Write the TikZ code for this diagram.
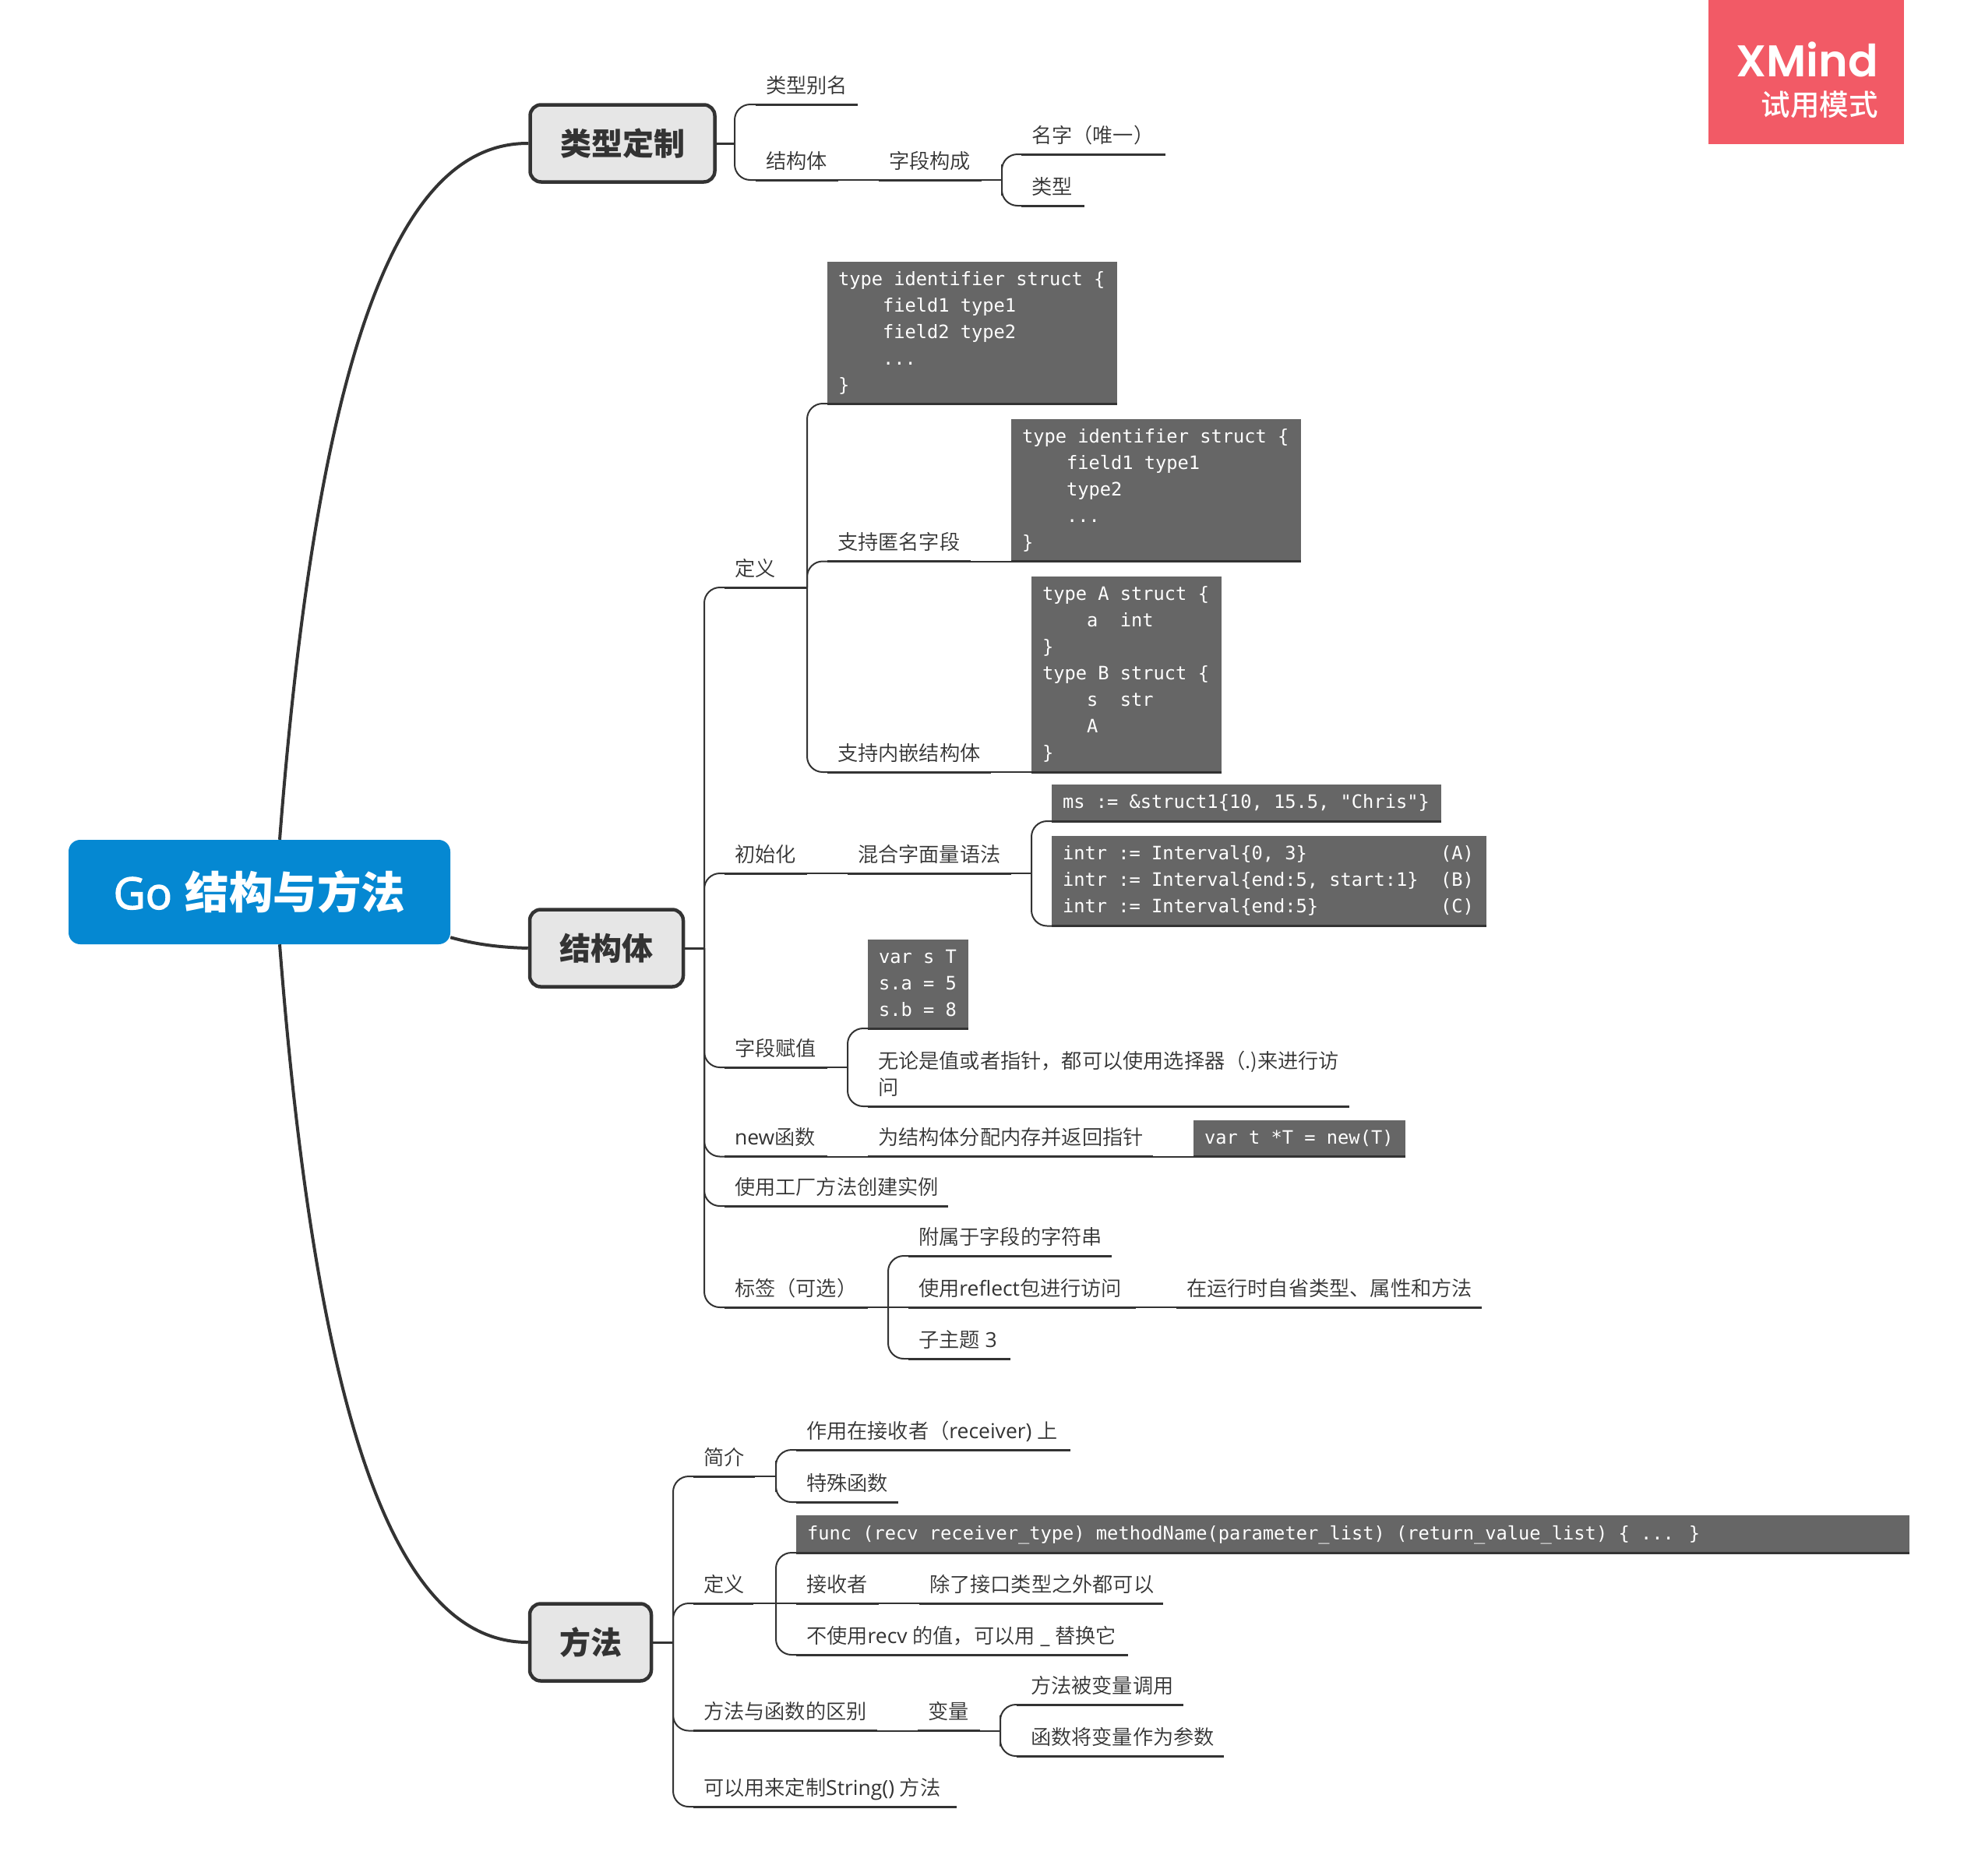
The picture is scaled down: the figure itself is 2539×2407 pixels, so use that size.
\documentclass[tikz,border=0pt]{standalone}
\usepackage{fontspec}
\setmainfont{Noto Sans CJK SC}[UprightFont=* DemiLight,BoldFont=* Black]
\newfontfamily\latf{Open Sans}
\newfontfamily\latm{Open Sans}[FakeBold=2.5]
\newfontfamily\codef{DejaVu Sans Mono}
\newfontfamily\logof{Poppins}[UprightFont=* SemiBold]
\newfontfamily\cjkr{Noto Sans CJK SC}[UprightFont=* Medium]
\definecolor{ink}{HTML}{333333}
\definecolor{rootblue}{HTML}{0588D2}
\definecolor{nodegrey}{HTML}{E6E6E6}
\definecolor{codegrey}{HTML}{666666}
\definecolor{logored}{HTML}{F25A66}
\newcommand\lt[1]{{\latf\fontsize{26.5pt}{34pt}\selectfont #1}}
\tikzset{
  mainnode/.style={draw=ink,line width=4.5pt,fill=nodegrey,rounded corners=14pt,text=ink,inner sep=0pt,
    font=\fontsize{40pt}{48pt}\selectfont\bfseries},
  rootnode/.style={fill=rootblue,rounded corners=15pt,text=white,inner sep=0pt,
    minimum width=490pt,minimum height=134pt},
  topic/.style={anchor=south west,inner xsep=0pt,inner ysep=15pt,outer sep=0pt,text depth=0pt,text=ink,
    font=\fontsize{26.2pt}{34pt}\selectfont},
  ul/.style={draw=ink,line width=3pt},
  conn/.style={draw=ink,line width=2pt,rounded corners=20pt},
  bigline/.style={draw=ink,line width=4pt},
  midline/.style={draw=ink,line width=3pt},
  codeb/.style={fill=codegrey,text=white,anchor=north west,inner sep=0pt,outer sep=0pt,
    font=\codef\fontsize{23.7pt}{34pt}\selectfont},
}
\newcommand\topicn[5]{%
  \pgfmathsetmacro\tpw{#3-#2}%
  \node[topic] (#1) at (#2,#4) {\makebox[\tpw pt][l]{\hspace{13pt}#5}};
  \draw[ul] (#1.south west) -- (#1.south east);
}
\newcommand\codeln[1]{\hbox{\vrule height 24pt depth 10pt width 0pt #1}}
\newcommand\codebox[6]{%
  \pgfmathsetmacro\cbw{#4-#2}%
  \pgfmathsetmacro\cbh{#5-#3}%
  \node[codeb,minimum width=\cbw pt,minimum height=\cbh pt] (#1) at (#2,#3)
    {\makebox[\cbw pt][l]{\hspace{14pt}\vbox{\offinterlineskip #6}}};
  \draw[ul] (#1.south west) -- (#1.south east);
}
\begin{document}
\begin{tikzpicture}[x=1pt,y=-1pt]
\path[use as bounding box,fill=white] (0,0) rectangle (2539,2407);

% logo
\node[fill=logored,minimum width=251pt,minimum height=185pt,inner sep=0pt,anchor=north west] (logo) at (2193,0) {};
\node[anchor=base east,inner sep=0pt,text=white,font=\logof\fontsize{57pt}{60pt}\selectfont] (logoa) at (2411,98) {XMind};
\node[anchor=base east,inner sep=0pt,text=white,font=\cjkr\fontsize{37.5pt}{40pt}\selectfont] (logob) at (2411,148) {试用模式};

% main nodes
\node[rootnode] (root) at (333,1145) {};
\node[anchor=center,inner sep=0pt,text=white,font=\fontsize{56.5pt}{60pt}\selectfont\bfseries] (rootlabel) at (root.center) {{\latm\mdseries Go}\hspace{4pt} 结构与方法};
\node[mainnode,minimum width=237pt,minimum height=99pt] (t1) at (799,184) {类型定制};
\node[mainnode,minimum width=197pt,minimum height=99pt] (t2) at (778.5,1217) {结构体};
\node[mainnode,minimum width=156pt,minimum height=99pt] (t3) at (758,2108) {方法};

\draw[bigline] ([xshift=26pt]root.north) .. controls (410,420) and (520,183) .. (t1.west);
\draw[bigline] ([xshift=26pt]root.south) .. controls (410,1870) and (520,2108) .. (t3.west);
\draw[bigline] ([yshift=9pt]root.south east) .. controls (610,1212) and (640,1216) .. (t2.west);

% junctions on the trunks
\coordinate (j1) at (943,184);
\coordinate (j2) at (904,1217);
\coordinate (j3) at (864,2108);
\draw[midline] (t1.east) -- (j1);
\draw[midline] (t2.east) -- (j2);
\draw[midline] (t3.east) -- (j3);

% ---------- type definitions
\topicn{alias}{970}{1101}{134}{类型别名}
\topicn{tstruct}{970}{1076}{231}{结构体}
\topicn{fields}{1128}{1260}{231}{字段构成}
\topicn{fname}{1311}{1496}{198}{名字（唯一）}
\topicn{ftype}{1311}{1392}{264}{类型}
\coordinate (jf) at (1286,231);
\draw[conn] (alias.south west) -| (j1) |- (tstruct.south west);
\draw[conn] (tstruct.south east) -- (fields.south west);
\draw[conn] (fields.south east) -- (jf);
\draw[conn] (fname.south west) -| (jf) |- (ftype.south west);

% ---------- struct
\topicn{sdef}{930}{1036}{754}{定义}
\topicn{anon}{1062}{1246}{720.5}{支持匿名字段}
\topicn{nest}{1062}{1272}{991}{支持内嵌结构体}
\topicn{sinit}{930}{1036}{1121}{初始化}
\topicn{mix}{1088}{1298}{1121}{混合字面量语法}
\topicn{assign}{930}{1062}{1370}{字段赋值}
\topicn{either}{1114}{1732}{1420}{\vbox{\baselineskip=34pt\hbox{无论是值或者指针，都可以使用选择器（.)来进行访}\hbox{问}}}
\topicn{newf}{930}{1062}{1484.5}{\lt{new}函数}
\topicn{alloc}{1114}{1480}{1484.5}{为结构体分配内存并返回指针}
\topicn{factory}{930}{1217}{1548}{使用工厂方法创建实例}
\topicn{tag}{930}{1114}{1678}{标签（可选）}
\topicn{attach}{1166}{1427}{1612}{附属于字段的字符串}
\topicn{reflect}{1166}{1458}{1678}{使用\lt{reflect}包进行访问}
\topicn{intro}{1510}{1902}{1678}{在运行时自省类型、属性和方法}
\topicn{sub}{1166}{1297}{1744}{子主题\lt{ 3}}

\codebox{ca}{1062}{336}{1434}{518}{%
  \codeln{type identifier struct \{}
  \codeln{\hspace*{57pt}field1 type1}
  \codeln{\hspace*{57pt}field2 type2}
  \codeln{\hspace*{57pt}...}
  \codeln{\}}}
\codebox{cb}{1298}{538}{1670}{720.5}{%
  \codeln{type identifier struct \{}
  \codeln{\hspace*{57pt}field1 type1}
  \codeln{\hspace*{57pt}type2}
  \codeln{\hspace*{57pt}...}
  \codeln{\}}}
\codebox{cc}{1324}{740}{1568}{991}{%
  \codeln{type A struct \{}
  \codeln{\hspace*{57pt}a\ \ int}
  \codeln{\}}
  \codeln{type B struct \{}
  \codeln{\hspace*{57pt}s\ \ str}
  \codeln{\hspace*{57pt}A}
  \codeln{\}}}
\codebox{cd}{1350}{1007}{1850}{1054}{%
  \codeln{ms := \&struct1\{10, 15.5, "Chris"\}}}
\codebox{ce}{1350}{1073}{1908}{1188.5}{%
  \codeln{\hbox to 528pt{intr := Interval\{0, 3\}\hfill (A)}}
  \codeln{\hbox to 528pt{intr := Interval\{end:5, start:1\}\hfill (B)}}
  \codeln{\hbox to 528pt{intr := Interval\{end:5\}\hfill (C)}}}
\codebox{cf}{1114}{1206}{1243}{1320}{%
  \codeln{var s T}
  \codeln{s.a = 5}
  \codeln{s.b = 8}}
\codebox{cg}{1532}{1438}{1804}{1484.5}{%
  \codeln{var t *T = new(T)}}

\coordinate (jd) at (1036,754);
\coordinate (jm) at (1324,1121);
\coordinate (ja) at (1088,1370);
\coordinate (jt) at (1140,1678);
\draw[conn] (sdef.south west) -| (j2) |- (tag.south west);
\draw[conn] (sinit.south west) -| (j2);
\draw[conn] (assign.south west) -| (j2);
\draw[conn] (newf.south west) -| (j2);
\draw[conn] (factory.south west) -| (j2);
\draw[conn] (ca.south west) -| (jd) |- (nest.south west);
\draw[conn] (anon.south west) -| (jd);
\draw[conn] (anon.south east) -- (cb.south west);
\draw[conn] (nest.south east) -- (cc.south west);
\draw[conn] (sinit.south east) -- (mix.south west);
\draw[conn] (mix.south east) -- (jm);
\draw[conn] (cd.south west) -| (jm) |- (ce.south west);
\draw[conn] (assign.south east) -- (ja);
\draw[conn] (cf.south west) -| (ja) |- (either.south west);
\draw[conn] (newf.south east) -- (alloc.south west);
\draw[conn] (alloc.south east) -- (cg.south west);
\draw[conn] (tag.south east) -- (jt);
\draw[conn] (attach.south west) -| (jt) |- (sub.south west);
\draw[conn] (jt) -- (reflect.south west);
\draw[conn] (reflect.south east) -- (intro.south west);

% ---------- methods
\topicn{mintro}{890}{969}{1895}{简介}
\topicn{recvon}{1022}{1374}{1861}{作用在接收者（\lt{receiver) }上}
\topicn{special}{1022}{1153}{1928}{特殊函数}
\topicn{mdef}{890}{967}{2058}{定义}
\topicn{receiver}{1022}{1128}{2058}{接收者}
\topicn{except}{1180}{1493}{2058}{除了接口类型之外都可以}
\topicn{unused}{1022}{1448}{2124}{不使用\lt{recv }的值，可以用\lt{ \_ }替换它}
\topicn{mdiff}{890}{1126}{2221.5}{方法与函数的区别}
\topicn{mvar}{1178}{1258}{2221.5}{变量}
\topicn{bycall}{1305}{1519}{2188}{\hspace{5pt}方法被变量调用}
\topicn{asparam}{1305}{1571}{2254}{\hspace{5pt}函数将变量作为参数}
\topicn{mstring}{890}{1228}{2319}{可以用来定制\lt{String() }方法}
\codebox{ch}{1022}{1945}{2451}{1993}{%
  \codeln{func (recv receiver\_type) methodName(parameter\_list) (return\_value\_list) \{ ... \}}}

\coordinate (ji) at (996,1895);
\coordinate (jn) at (996,2058);
\coordinate (jv) at (1284,2221.5);
\draw[conn] (mintro.south west) -| (j3) |- (mstring.south west);
\draw[conn] (mdef.south west) -| (j3);
\draw[conn] (mdiff.south west) -| (j3);
\draw[conn] (mintro.south east) -- (ji);
\draw[conn] (recvon.south west) -| (ji) |- (special.south west);
\draw[conn] (mdef.south east) -- (jn);
\draw[conn] (ch.south west) -| (jn) |- (unused.south west);
\draw[conn] (jn) -- (receiver.south west);
\draw[conn] (receiver.south east) -- (except.south west);
\draw[conn] (mdiff.south east) -- (mvar.south west);
\draw[conn] (mvar.south east) -- (jv);
\draw[conn] (bycall.south west) -| (jv) |- (asparam.south west);
\end{tikzpicture}
\end{document}
